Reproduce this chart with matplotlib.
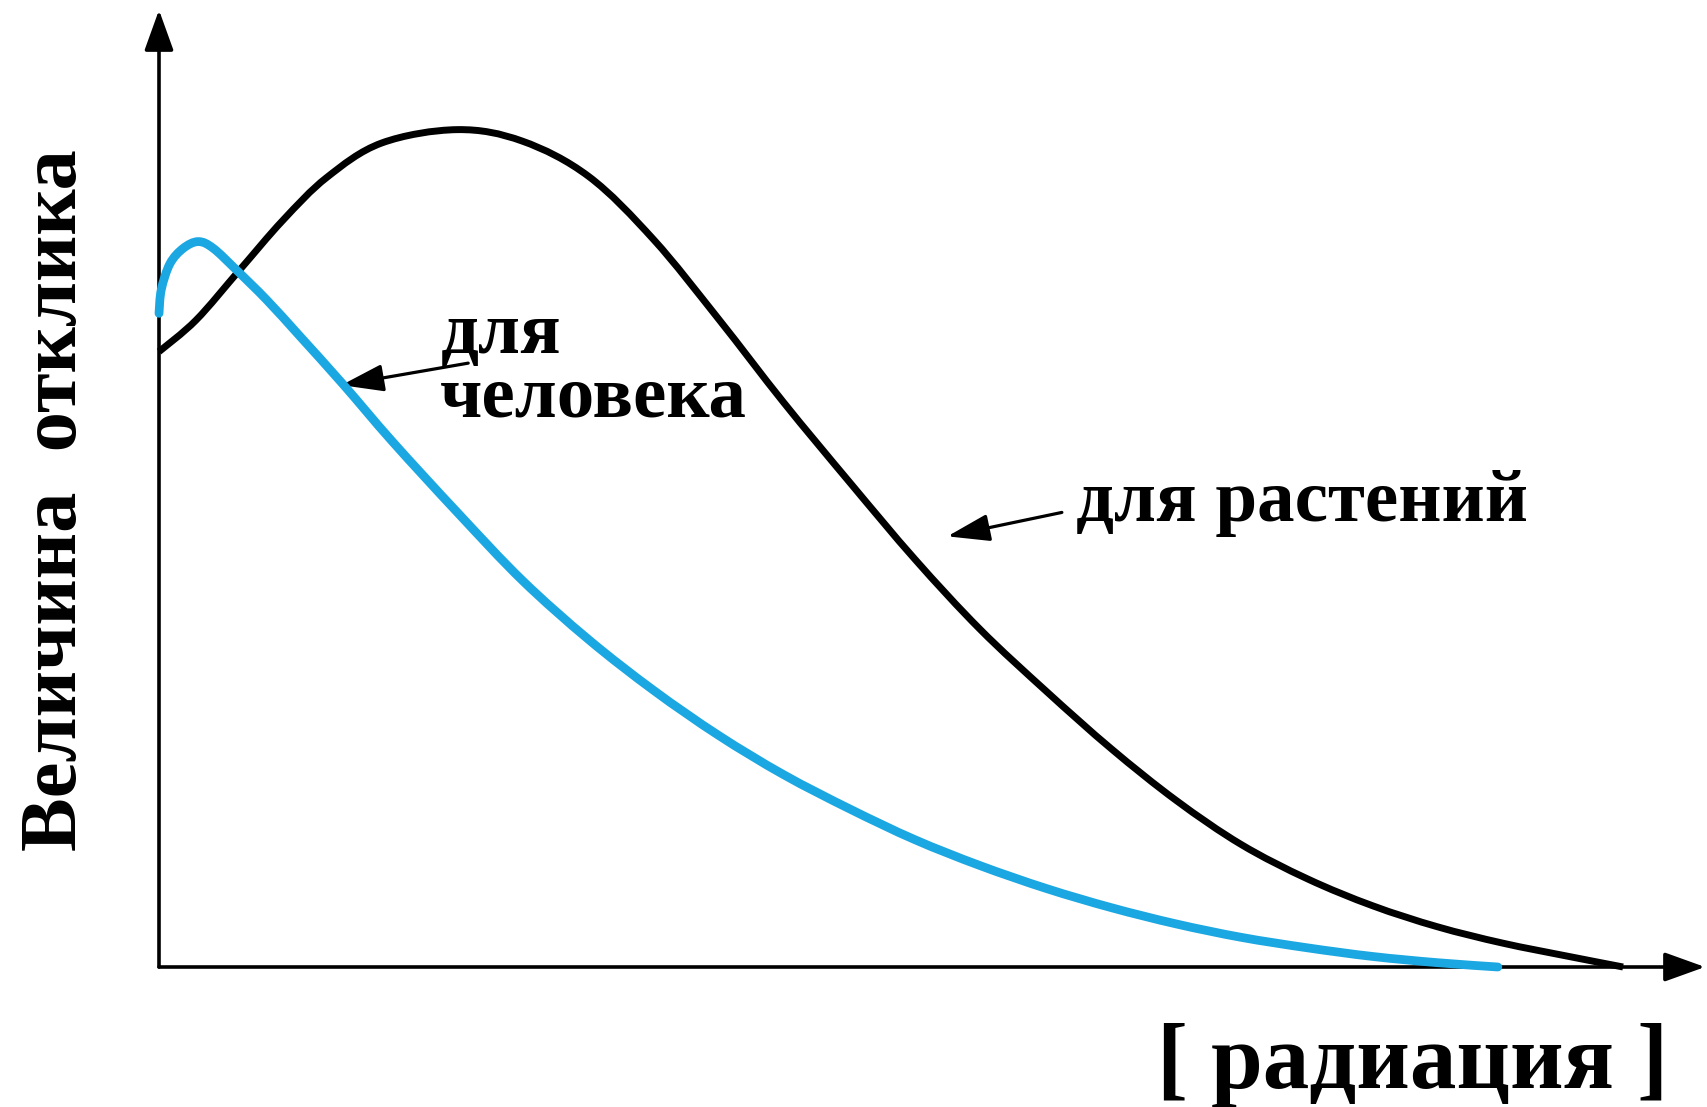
#!/usr/bin/env python3
"""Response vs. radiation: plants vs. humans (schematic curves)."""

import numpy as np
import matplotlib
matplotlib.use('Agg')
import matplotlib.pyplot as plt
from matplotlib.path import Path
from matplotlib.patches import PathPatch

# curve values (arbitrary units, axes run 0..100)
plant_x = [0.0, 2.4, 5.2, 8.0, 10.85, 14.4, 19.3, 23.5, 27.8, 32.0, 36.2, 40.4,
           44.7, 48.9, 53.1, 57.4, 61.6, 65.8, 70.0, 74.3, 78.5, 82.7, 86.9,
           91.2, 94.7]
plant_y = [64.3, 67.6, 72.8, 78.0, 82.5, 86.1, 87.5, 86.3, 82.6, 76.0, 67.7, 59.0,
           50.6, 42.6, 35.3, 28.8, 22.8, 17.4, 12.8, 9.2, 6.4, 4.2, 2.5,
           1.1, 0.0]

human_x = [0.0, 0.15, 0.71, 1.57, 2.54, 3.51, 5.03, 6.97, 9.12, 11.9, 15.1,
           19.3, 23.5, 27.8, 32.0, 36.2, 40.4, 44.7, 48.9, 53.1, 57.4, 61.6,
           65.8, 70.0, 74.3, 78.5, 82.7, 86.6]
human_y = [68.3, 70.8, 73.5, 75.1, 75.8, 75.1, 72.8, 69.7, 65.9, 60.9, 54.9,
           47.5, 40.4, 34.2, 28.9, 24.2, 20.1, 16.5, 13.3, 10.6, 8.2, 6.2,
           4.5, 3.1, 2.0, 1.1, 0.45, 0.0]

y_label = 'Величина  отклика'
x_label = '[ радиация ]'
human_label = ['для', 'человека']
plant_label = 'для растений'

BLUE = '#1ba7e1'
FONT = 'Liberation Serif'


def smooth_path(xs, ys):
    """Bezier path through the points (Catmull-Rom tangents)."""
    pts = np.column_stack([xs, ys])
    n = len(pts)
    verts = [pts[0]]
    codes = [Path.MOVETO]
    for i in range(n - 1):
        p0 = pts[max(i - 1, 0)]
        p1 = pts[i]
        p2 = pts[i + 1]
        p3 = pts[min(i + 2, n - 1)]
        verts += [p1 + (p2 - p0) / 6, p2 - (p3 - p1) / 6, p2]
        codes += [Path.CURVE4] * 3
    return Path(verts, codes)


W, H = 1708, 1107
fig = plt.figure(figsize=(W / 100, H / 100), dpi=100)
# axes box: origin at (159, 967) px, arrow tips at x=1705 and y=10
ax = fig.add_axes([159 / W, (H - 967) / H, (1705 - 159) / W, (967 - 10) / H])
ax.set_xlim(0, 100)
ax.set_ylim(0, 100)
ax.axis('off')

# axes with arrowheads
axis_arrow = dict(arrowstyle='-|>,head_length=1.25,head_width=0.45',
                  mutation_scale=20, lw=2.6, color='black',
                  shrinkA=0, shrinkB=0)
ax.annotate('', xy=(1, 0), xytext=(0, 0), xycoords='axes fraction',
            arrowprops=axis_arrow, annotation_clip=False)
ax.annotate('', xy=(0, 1), xytext=(0, 0), xycoords='axes fraction',
            arrowprops=axis_arrow, annotation_clip=False)

ax.add_patch(PathPatch(smooth_path(plant_x, plant_y), fill=False,
                       edgecolor='black', lw=5.0, capstyle='butt',
                       joinstyle='round', clip_on=False, zorder=3))
ax.add_patch(PathPatch(smooth_path(human_x, human_y), fill=False,
                       edgecolor=BLUE, lw=6.3, capstyle='round',
                       joinstyle='round', clip_on=False, zorder=4))

# labels with pointers
label_arrow = dict(arrowstyle='-|>,head_length=1.3,head_width=0.42',
                   mutation_scale=20, lw=2.3, color='black',
                   shrinkA=0, shrinkB=0)
ax.annotate('', xy=(11.8, 60.8), xytext=(20.0, 63.1), arrowprops=label_arrow)
ax.annotate('', xy=(51.0, 45.0), xytext=(58.4, 47.5), arrowprops=label_arrow)

txt = dict(family=FONT, fontweight='bold', fontsize=54, color='black',
           va='baseline', ha='left')
ax.text(18.2, 64.2, human_label[0], **txt)
ax.text(18.2, 57.5, human_label[1], **txt)
ax.text(59.3, 46.6, plant_label, **txt)

ax.text(97.6, -12.6, x_label, family=FONT, fontweight='bold', fontsize=67,
        va='baseline', ha='right', clip_on=False)
ax.text(-6.6, 48.8, y_label, family=FONT, fontweight='bold', fontsize=58,
        rotation=90, va='center', ha='center', clip_on=False)

fig.savefig('out.png', dpi=100)
